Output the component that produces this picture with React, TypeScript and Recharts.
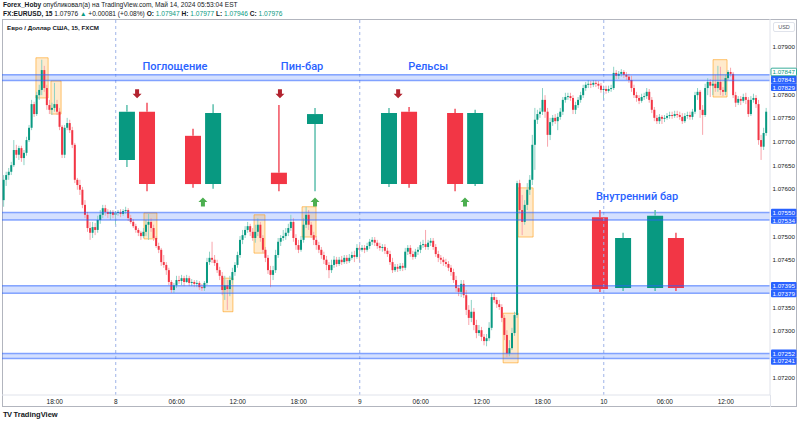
import React from "react";
import {
  ComposedChart,
  Bar,
  Scatter,
  XAxis,
  YAxis,
  ReferenceArea,
  ReferenceLine,
} from "recharts";

// ---- data (15 min EUR/USD bars, index 0 = 13:00 on the 7th) ----
const firstOpen = 1.07576;

const closes = [
  1.07619, 1.07629, 1.07636, 1.0765, 1.07682, 1.07672, 1.07686, 1.07665, 1.07676, 1.07703,
  1.07729, 1.07779, 1.07758, 1.07798, 1.07809, 1.07851, 1.07813, 1.07777, 1.07767, 1.07771,
  1.07779, 1.07763, 1.07731, 1.07672, 1.07729, 1.07739, 1.07724, 1.07693, 1.07619, 1.07608,
  1.07598, 1.07566, 1.07545, 1.07517, 1.07507, 1.07519, 1.07513, 1.07534, 1.07545, 1.07559,
  1.07551, 1.07547, 1.07551, 1.07545, 1.07549, 1.07551, 1.07547, 1.07553, 1.07555, 1.07538,
  1.0753, 1.07521, 1.07513, 1.07507, 1.075, 1.07509, 1.07524, 1.0753, 1.07517, 1.07496,
  1.07479, 1.07471, 1.07445, 1.07439, 1.07428, 1.07403, 1.07386, 1.07396, 1.07407, 1.07405,
  1.07411, 1.07403, 1.07411, 1.07401, 1.07403, 1.07399, 1.07401, 1.07392, 1.0739, 1.07401,
  1.07445, 1.07454, 1.0745, 1.07443, 1.07428, 1.07416, 1.07386, 1.07396, 1.07388, 1.07407,
  1.07424, 1.07439, 1.0746, 1.07492, 1.07502, 1.07513, 1.07521, 1.07509, 1.07496, 1.07509,
  1.07524, 1.07496, 1.07471, 1.07454, 1.07428, 1.07418, 1.07428, 1.0746, 1.07488, 1.07496,
  1.075, 1.07507, 1.07517, 1.0753, 1.07496, 1.07481, 1.07471, 1.07492, 1.07524, 1.07545,
  1.07524, 1.07502, 1.07492, 1.07481, 1.07471, 1.0746, 1.0745, 1.07439, 1.07428, 1.07439,
  1.0745, 1.07441, 1.0745, 1.07445, 1.07454, 1.07447, 1.07454, 1.0746, 1.07456, 1.07475,
  1.07471, 1.07475, 1.07471, 1.07479, 1.07488, 1.07492, 1.07486, 1.07479, 1.07475, 1.07477,
  1.07469, 1.07462, 1.07445, 1.07428, 1.07435, 1.07431, 1.07437, 1.07433, 1.07467, 1.07475,
  1.07462, 1.07456, 1.07467, 1.07471, 1.07481, 1.07483, 1.07477, 1.07486, 1.0749, 1.07477,
  1.07462, 1.07454, 1.0745, 1.07445, 1.07441, 1.07433, 1.07424, 1.07407, 1.0739, 1.07382,
  1.07399, 1.07375, 1.07344, 1.07327, 1.0734, 1.07312, 1.07295, 1.07301, 1.07287, 1.07278,
  1.07284, 1.07306, 1.07371, 1.07365, 1.07356, 1.0735, 1.07327, 1.07291, 1.07252, 1.07263,
  1.07295, 1.07333, 1.07612, 1.07555, 1.0753, 1.07566, 1.07598, 1.07619, 1.07693, 1.07746,
  1.07758, 1.07763, 1.07788, 1.07763, 1.07714, 1.07741, 1.0775, 1.07743, 1.07752, 1.07763,
  1.07788, 1.07794, 1.07796, 1.07792, 1.07767, 1.07777, 1.07788, 1.07798, 1.07813, 1.0782,
  1.07822, 1.0782, 1.07824, 1.07822, 1.07818, 1.07809, 1.07811, 1.07807, 1.07811, 1.07813,
  1.07845, 1.07839, 1.07843, 1.07847, 1.07841, 1.07837, 1.0783, 1.07813, 1.07798, 1.07792,
  1.07786, 1.07794, 1.07796, 1.07805, 1.07788, 1.07767, 1.0775, 1.07743, 1.07752, 1.07748,
  1.0775, 1.07754, 1.07756, 1.07754, 1.07758, 1.07756, 1.07752, 1.07743, 1.07754, 1.07756,
  1.07752, 1.07763, 1.07798, 1.07805, 1.07767, 1.07756, 1.07813, 1.07826, 1.07818, 1.07822,
  1.07813, 1.07826, 1.07809, 1.07805, 1.07834, 1.07847, 1.07843, 1.07798, 1.07782, 1.0779,
  1.07786, 1.07794, 1.07788, 1.07758, 1.07788, 1.07792, 1.07779, 1.07703, 1.07689, 1.07718,
  1.07763,
];

const highs = [
  1.07629, 1.07636, 1.07644, 1.07657, 1.07703, 1.07693, 1.07691, 1.07691, 1.07682, 1.0771,
  1.07735, 1.07788, 1.07784, 1.07805, 1.0782, 1.07873, 1.0786, 1.0782, 1.07788, 1.07782,
  1.07824, 1.07788, 1.07771, 1.07735, 1.07735, 1.0775, 1.07746, 1.07731, 1.07697, 1.07623,
  1.07619, 1.07604, 1.07576, 1.07551, 1.0753, 1.0753, 1.07528, 1.07543, 1.07555, 1.07566,
  1.07566, 1.07557, 1.07555, 1.07555, 1.07553, 1.07555, 1.07557, 1.07557, 1.07562, 1.07559,
  1.07545, 1.07536, 1.07526, 1.07517, 1.07511, 1.07517, 1.07534, 1.07547, 1.07538, 1.07524,
  1.075, 1.07486, 1.07475, 1.0746, 1.07445, 1.07433, 1.07407, 1.07401, 1.07416, 1.07416,
  1.07418, 1.07416, 1.07418, 1.07416, 1.07409, 1.07407, 1.07407, 1.07405, 1.07399, 1.07405,
  1.07454, 1.07467, 1.07488, 1.0746, 1.0745, 1.07435, 1.07424, 1.07416, 1.07407, 1.07416,
  1.07433, 1.07445, 1.07467, 1.075, 1.07513, 1.07521, 1.0753, 1.07526, 1.07517, 1.07524,
  1.07538, 1.0753, 1.07502, 1.07477, 1.0746, 1.07437, 1.07437, 1.07471, 1.07496, 1.07502,
  1.07513, 1.07517, 1.07526, 1.07545, 1.07538, 1.07504, 1.07492, 1.075, 1.07538, 1.07562,
  1.07555, 1.0753, 1.07509, 1.075, 1.07488, 1.07477, 1.07467, 1.07458, 1.07445, 1.0745,
  1.07458, 1.07456, 1.07456, 1.07458, 1.0746, 1.0746, 1.07462, 1.07467, 1.07469, 1.07483,
  1.07481, 1.07481, 1.07481, 1.07486, 1.07494, 1.07498, 1.07498, 1.07492, 1.07486, 1.07483,
  1.07483, 1.07475, 1.07469, 1.07454, 1.07441, 1.07441, 1.07443, 1.07443, 1.07475, 1.07481,
  1.07481, 1.07469, 1.07473, 1.07477, 1.07488, 1.07492, 1.07513, 1.07492, 1.07496, 1.07496,
  1.07483, 1.07469, 1.0746, 1.07456, 1.07452, 1.07447, 1.07439, 1.07431, 1.07416, 1.07396,
  1.07407, 1.07407, 1.07386, 1.07354, 1.07365, 1.07348, 1.07323, 1.07312, 1.07308, 1.07293,
  1.07293, 1.07318, 1.0738, 1.0738, 1.07371, 1.07365, 1.07356, 1.07333, 1.07301, 1.0728,
  1.07306, 1.0734, 1.07617, 1.07619, 1.07587, 1.07576, 1.07612, 1.07629, 1.07714, 1.07771,
  1.07767, 1.07771, 1.07813, 1.07798, 1.07771, 1.0775, 1.07756, 1.07758, 1.0776, 1.07771,
  1.07794, 1.07803, 1.07803, 1.07803, 1.07798, 1.07784, 1.07794, 1.07805, 1.0782, 1.07826,
  1.0783, 1.07828, 1.0783, 1.0783, 1.07828, 1.07824, 1.07818, 1.07818, 1.07818, 1.0782,
  1.07858, 1.07851, 1.07849, 1.07853, 1.07851, 1.07847, 1.07843, 1.07839, 1.0782, 1.07805,
  1.07798, 1.07801, 1.07803, 1.07813, 1.07811, 1.07794, 1.07773, 1.07756, 1.07758, 1.07756,
  1.07756, 1.0776, 1.07763, 1.07763, 1.07765, 1.07765, 1.07763, 1.0776, 1.0776, 1.07763,
  1.07763, 1.07769, 1.07805, 1.07813, 1.07809, 1.07777, 1.07822, 1.07834, 1.07832, 1.0783,
  1.07841, 1.0786, 1.07858, 1.07815, 1.07841, 1.07851, 1.07856, 1.07847, 1.07805, 1.07796,
  1.07796, 1.07801, 1.07803, 1.07794, 1.07796, 1.07801, 1.07798, 1.07788, 1.07714, 1.07729,
  1.07771,
];

const lows = [
  1.07562, 1.07606, 1.07619, 1.07629, 1.07646, 1.07665, 1.07661, 1.07657, 1.0765, 1.0767,
  1.07699, 1.07724, 1.07752, 1.07754, 1.07788, 1.07798, 1.07805, 1.07767, 1.07758, 1.07756,
  1.07763, 1.07756, 1.07724, 1.07665, 1.07665, 1.07724, 1.07718, 1.07686, 1.07612, 1.07598,
  1.07587, 1.07559, 1.07538, 1.07509, 1.07492, 1.07496, 1.07502, 1.07507, 1.07526, 1.07538,
  1.07543, 1.07538, 1.07534, 1.07538, 1.07524, 1.07543, 1.0754, 1.07543, 1.07547, 1.07532,
  1.07526, 1.07517, 1.07507, 1.075, 1.07492, 1.07496, 1.075, 1.07492, 1.07509, 1.0749,
  1.07475, 1.07464, 1.07437, 1.07433, 1.07418, 1.07396, 1.0738, 1.0738, 1.0739, 1.07399,
  1.07396, 1.07394, 1.07401, 1.07394, 1.07394, 1.07392, 1.07392, 1.07386, 1.07384, 1.07384,
  1.07396, 1.07439, 1.07443, 1.07437, 1.07422, 1.07407, 1.07375, 1.07365, 1.07344, 1.07373,
  1.07399, 1.07416, 1.07433, 1.07454, 1.07483, 1.07496, 1.07507, 1.075, 1.0749, 1.07486,
  1.075, 1.07488, 1.07464, 1.07445, 1.0742, 1.07392, 1.07407, 1.07422, 1.07454, 1.07479,
  1.0749, 1.07492, 1.075, 1.07511, 1.07488, 1.07471, 1.07464, 1.07467, 1.07486, 1.07517,
  1.07513, 1.07496, 1.07481, 1.07471, 1.07464, 1.07452, 1.07441, 1.07428, 1.07411, 1.07422,
  1.07433, 1.07435, 1.07437, 1.07439, 1.07441, 1.07441, 1.07443, 1.0745, 1.07445, 1.07452,
  1.07445, 1.07467, 1.07464, 1.07467, 1.07473, 1.07481, 1.07479, 1.07473, 1.07469, 1.07467,
  1.07462, 1.07456, 1.07439, 1.07422, 1.07424, 1.07424, 1.07426, 1.07426, 1.07428, 1.0746,
  1.07456, 1.0745, 1.07452, 1.0746, 1.07464, 1.07475, 1.07471, 1.07471, 1.07479, 1.07471,
  1.07456, 1.07445, 1.07441, 1.07437, 1.07435, 1.07426, 1.07416, 1.07401, 1.07382, 1.07373,
  1.07371, 1.07369, 1.07333, 1.07312, 1.07318, 1.07301, 1.07284, 1.07289, 1.07278, 1.07269,
  1.07267, 1.07278, 1.07301, 1.07359, 1.07348, 1.07344, 1.07318, 1.0728, 1.07244, 1.07246,
  1.07259, 1.07289, 1.07327, 1.07547, 1.07502, 1.07524, 1.07555, 1.07587, 1.07608, 1.0764,
  1.07737, 1.0775, 1.07756, 1.0775, 1.07689, 1.07703, 1.07733, 1.07737, 1.07724, 1.07746,
  1.07756, 1.07782, 1.07788, 1.07786, 1.07758, 1.07758, 1.07771, 1.07782, 1.07792, 1.07807,
  1.07813, 1.07813, 1.07815, 1.07815, 1.07811, 1.07803, 1.07788, 1.07801, 1.07803, 1.07805,
  1.07809, 1.07832, 1.07832, 1.07837, 1.07834, 1.0783, 1.07824, 1.07805, 1.07792, 1.07784,
  1.07779, 1.07782, 1.07788, 1.0779, 1.07782, 1.0776, 1.07743, 1.07737, 1.07737, 1.07737,
  1.07741, 1.07746, 1.07748, 1.07748, 1.0775, 1.0775, 1.07746, 1.07737, 1.07739, 1.07748,
  1.07746, 1.07746, 1.07758, 1.07788, 1.0775, 1.07714, 1.07752, 1.07798, 1.07794, 1.07798,
  1.07805, 1.07805, 1.07798, 1.07796, 1.07798, 1.0783, 1.07837, 1.07792, 1.07773, 1.07777,
  1.07777, 1.07782, 1.07779, 1.07752, 1.07754, 1.07782, 1.07771, 1.07693, 1.07661, 1.07682,
  1.07712,
];

const timeTicks = [20, 44, 68, 92, 116, 140, 164, 188, 212, 236, 260, 284];
const timeLabels = ["18:00", "8", "06:00", "12:00", "18:00", "9", "06:00", "12:00", "18:00", "10", "06:00", "12:00"];
const sessionBreaks = [44, 140, 236];

const priceTicks = [
  1.072, 1.0725, 1.073, 1.0735, 1.074, 1.0745, 1.075, 1.0755,
  1.076, 1.0765, 1.077, 1.0775, 1.078, 1.0785, 1.079,
];

// support / resistance zones [low, high]
const zones = [
  [1.07829, 1.07841],
  [1.07534, 1.0755],
  [1.07379, 1.07395],
  [1.07241, 1.07252],
];
const lastPrice = 1.07847;

// orange highlight boxes
const boxX = [
  [12.6, 17.4], [18.5, 22.5], [55.1, 60.2], [86.2, 90.1], [98.4, 102.7],
  [117.3, 122.8], [196.4, 202.3], [202.3, 208.2], [279.0, 284.5],
];
const boxY = [
  [1.07792, 1.07877], [1.07758, 1.07828], [1.07494, 1.07549], [1.0734, 1.07411], [1.07464, 1.07545],
  [1.07498, 1.07562], [1.07232, 1.07337], [1.07498, 1.07602], [1.07794, 1.07873],
];

// illustration candles drawn on the chart
const patternX = [48.4, 56.3, 74.4, 82.3, 108.2, 122.4, 151.5, 159.4, 177.5, 185.4, 234.5, 243.6, 256.2, 264.4];
const patternOpen = [1.07661, 1.07763, 1.07712, 1.0761, 1.07634, 1.07737, 1.0761, 1.07763, 1.0776, 1.0761, 1.0754, 1.0739, 1.0739, 1.07496];
const patternHigh = [1.07777, 1.07782, 1.07727, 1.07779, 1.07777, 1.07771, 1.07771, 1.07773, 1.07769, 1.07767, 1.07555, 1.07507, 1.07555, 1.07507];
const patternLow = [1.07646, 1.07595, 1.07602, 1.076, 1.07595, 1.07595, 1.07604, 1.07602, 1.07595, 1.07606, 1.07382, 1.07384, 1.07384, 1.07384];
const patternClose = [1.07763, 1.0761, 1.0761, 1.0776, 1.0761, 1.07758, 1.0776, 1.0761, 1.0761, 1.0776, 1.07388, 1.07496, 1.07543, 1.0739];

const arrowDownX = [52.4, 108.6, 155.1];
const arrowUpX = [78.3, 122.4, 181.4];
const arrowDownPrice = 1.07801;
const arrowUpPrice = 1.07572;

const titles = ["Поглощение", "Пин-бар", "Рельсы", "Внутренний бар"];
const titleX = [67.3, 117.3, 166.9, 249.1];
const titlePrice = [1.07858, 1.07858, 1.07858, 1.07583];

// ---- layout ----
const WIDTH = 800;
const HEIGHT = 423;
const MARGIN = { top: 19, right: 3, bottom: 16, left: 2 };
const Y_AXIS_W = 27;
const X_AXIS_H = 12;
const PLOT_H = HEIGHT - MARGIN.top - MARGIN.bottom - X_AXIS_H;
const Y_MIN = 1.07164;
const Y_MAX = 1.07959;
const X_DOMAIN: [number, number] = [-0.75, 301.4];
const PATTERN_HALF = 3.15;
const BADGE_H = 7.6;

const UP = "#089981";
const DOWN = "#f23645";
const UP_WICK = "#8dd2c5";
const DOWN_WICK = "#f8a5ac";
const BLUE = "#2962ff";
const TEXT = "#131722";
const FONT = "'Liberation Sans', Arial, sans-serif";

const candles = closes.map((c, i) => {
  const o = i === 0 ? firstOpen : closes[i - 1];
  const h = Math.max(highs[i], o, c);
  const l = Math.min(lows[i], o, c);
  return { b: i, o, h, l, c, range: [l, h] };
});

const zoneValues = zones.flat();
const badgeValues = [lastPrice, ...zoneValues].sort((a, b) => b - a);
const pxPerUnit = PLOT_H / (Y_MAX - Y_MIN);

// push price badges apart so they don't overlap, like TradingView does
const badgeShift: Array<[number, number]> = [];
{
  let prev = -Infinity;
  for (const v of badgeValues) {
    const y = (Y_MAX - v) * pxPerUnit;
    const yy = Math.max(y, prev + BADGE_H);
    badgeShift.push([v, yy - y]);
    prev = yy;
  }
}

const visiblePriceTicks = priceTicks.filter(
  (t) => !badgeValues.some((v) => Math.abs(t - v) * pxPerUnit < 6)
);
const axisTicks = [...visiblePriceTicks, ...badgeValues].sort((a, b) => a - b);

const same = (a: number, b: number) => Math.abs(a - b) < 1e-8;

const downArrows = arrowDownX.map((b) => ({ b, p: arrowDownPrice }));
const upArrows = arrowUpX.map((b) => ({ b, p: arrowUpPrice }));
const titlePoints = titles.map((t, i) => ({ b: titleX[i], p: titlePrice[i], t }));

function CandleShape(props: any) {
  const { x, y, width, height, payload } = props;
  if (!payload || x == null || y == null) return null;
  const { o, h, l, c } = payload;
  const top = Math.min(y, y + height);
  const span = Math.abs(height);
  const toY = (p: number) => (h === l ? top : top + ((h - p) / (h - l)) * span);
  const up = c >= o;
  const cx = x + width / 2;
  const bodyTop = toY(Math.max(o, c));
  const bodyH = Math.max(toY(Math.min(o, c)) - bodyTop, 1);
  return (
    <g>
      <line x1={cx} x2={cx} y1={top} y2={top + span} stroke={up ? UP_WICK : DOWN_WICK} strokeWidth={1} />
      <rect x={x} y={bodyTop} width={width} height={bodyH} fill={up ? UP : DOWN} />
    </g>
  );
}

function DownArrow({ cx, cy }: any) {
  if (cx == null) return null;
  const pts = [
    [cx - 2, cy - 4.5], [cx + 2, cy - 4.5], [cx + 2, cy], [cx + 4.5, cy],
    [cx, cy + 4.5], [cx - 4.5, cy], [cx - 2, cy],
  ];
  return <polygon points={pts.map((p) => p.join(",")).join(" ")} fill="#b2232f" />;
}

function UpArrow({ cx, cy }: any) {
  if (cx == null) return null;
  const pts = [
    [cx - 2, cy + 4.5], [cx + 2, cy + 4.5], [cx + 2, cy], [cx + 4.5, cy],
    [cx, cy - 4.5], [cx - 4.5, cy], [cx - 2, cy],
  ];
  return <polygon points={pts.map((p) => p.join(",")).join(" ")} fill="#4caf50" />;
}

function TitleShape({ cx, cy, payload }: any) {
  if (cx == null) return null;
  return (
    <text x={cx} y={cy} textAnchor="middle" dominantBaseline="central" fontSize={11}
      fontWeight={500} fill={BLUE} fontFamily="Roboto, sans-serif">
      {payload.t}
    </text>
  );
}

function PriceTick(props: any) {
  const { x, y, payload } = props;
  const v = payload.value as number;
  const isLast = same(v, lastPrice);
  const isZone = zoneValues.some((z) => same(z, v));
  if (isLast || isZone) {
    const shift = badgeShift.find(([bv]) => same(bv, v))?.[1] ?? 0;
    const yy = y + shift;
    return (
      <g>
        <rect x={x + 1} y={yy - BADGE_H / 2} width={25.5} height={BADGE_H} rx={1}
          fill={isLast ? "#ffffff" : BLUE} stroke={isLast ? UP : "none"} strokeWidth={0.8} />
        <text x={x + 13.7} y={yy} textAnchor="middle" dominantBaseline="central"
          fontSize={6.2} fill={isLast ? UP : "#ffffff"}>
          {v.toFixed(5)}
        </text>
      </g>
    );
  }
  return (
    <text x={x + 13.7} y={y} textAnchor="middle" dominantBaseline="central" fontSize={6.2} fill={TEXT}>
      {v.toFixed(5)}
    </text>
  );
}

export default function App() {
  return (
    <div style={{ position: "absolute", left: 0, top: 0, width: WIDTH, height: HEIGHT, background: "#fff", fontFamily: FONT, color: TEXT, overflow: "hidden" }}>
      <div style={{ position: "absolute", left: 3, top: 1, fontSize: 6.6, lineHeight: "8px", whiteSpace: "nowrap" }}>
        <b>Forex_Hoby</b> опубликовал(а) на TradingView.com, Май 14, 2024 05:53:04 EST
      </div>
      <div style={{ position: "absolute", left: 3, top: 10, fontSize: 6.6, lineHeight: "8px", whiteSpace: "nowrap" }}>
        <b>FX:EURUSD, 15</b> 1.07976 <span style={{ color: UP }}>▲</span> +0.00081 (+0.08%){" "}
        <b>O:</b> <span style={{ color: UP }}>1.07947</span> <b>H:</b> <span style={{ color: UP }}>1.07977</span>{" "}
        <b>L:</b> <span style={{ color: UP }}>1.07946</span> <b>C:</b> <span style={{ color: UP }}>1.07976</span>
      </div>

      <div style={{ position: "absolute", left: 2, top: 19, width: 795, height: 388, border: "1px solid #b2b5be", boxSizing: "border-box" }} />
      <div style={{ position: "absolute", left: 770, top: 395, width: 1, height: 12, background: "#e0e3eb" }} />

      <div style={{ position: "absolute", left: 0, top: 0 }}>
        <ComposedChart width={WIDTH} height={HEIGHT} data={candles} margin={MARGIN}>
          <XAxis
            dataKey="b"
            type="number"
            domain={X_DOMAIN}
            allowDataOverflow
            ticks={timeTicks}
            interval={0}
            height={X_AXIS_H}
            tickLine={false}
            tickSize={0}
            tickMargin={4}
            axisLine={{ stroke: "#e0e3eb" }}
            tick={{ fontSize: 6.5, fill: TEXT }}
            tickFormatter={(v: number) => timeLabels[timeTicks.indexOf(v)] ?? ""}
          />
          <XAxis xAxisId="pat" dataKey="b" type="number" domain={X_DOMAIN} allowDataOverflow hide />
          <YAxis
            orientation="right"
            type="number"
            width={Y_AXIS_W}
            domain={[Y_MIN, Y_MAX]}
            allowDataOverflow
            ticks={axisTicks}
            interval={0}
            tickLine={false}
            tickSize={0}
            tickMargin={0}
            axisLine={{ stroke: "#e0e3eb" }}
            tick={(p: any) => <PriceTick {...p} />}
          />

          {sessionBreaks.map((b) => (
            <ReferenceLine key={`s${b}`} x={b} stroke="#9fb3e8" strokeDasharray="3 3" />
          ))}

          {zones.map(([lo, hi], i) => (
            <ReferenceArea key={`z${i}`} y1={lo} y2={hi} fill={BLUE} fillOpacity={0.2} stroke="none" />
          ))}
          {zoneValues.map((v, i) => (
            <ReferenceLine key={`zl${i}`} y={v} stroke={BLUE} strokeOpacity={0.55} strokeWidth={1.5} />
          ))}

          <Bar dataKey="range" barSize={2} shape={<CandleShape />} isAnimationActive={false} />

          {boxX.map(([x1, x2], i) => (
            <ReferenceArea key={`h${i}`} x1={x1} x2={x2} y1={boxY[i][0]} y2={boxY[i][1]}
              fill="#ff9800" fillOpacity={0.2} stroke="#ff9800" strokeOpacity={0.55} />
          ))}

          {patternX.map((px, i) => {
            const o = patternOpen[i];
            const c = patternClose[i];
            const up = c >= o;
            const top = Math.max(o, c);
            const bot = Math.min(o, c);
            const wick = up ? "#5cbfad" : "#f2505e";
            return (
              <React.Fragment key={`p${i}`}>
                <ReferenceLine segment={[{ x: px, y: patternHigh[i] }, { x: px, y: top }]} stroke={wick} strokeWidth={1.5} />
                <ReferenceLine segment={[{ x: px, y: bot }, { x: px, y: patternLow[i] }]} stroke={wick} strokeWidth={1.5} />
                <ReferenceArea x1={px - PATTERN_HALF} x2={px + PATTERN_HALF} y1={bot} y2={top}
                  fill={up ? UP : DOWN} fillOpacity={1} stroke="none" />
              </React.Fragment>
            );
          })}

          <Scatter xAxisId="pat" data={downArrows} dataKey="p" shape={<DownArrow />} isAnimationActive={false} />
          <Scatter xAxisId="pat" data={upArrows} dataKey="p" shape={<UpArrow />} isAnimationActive={false} />
          <Scatter xAxisId="pat" data={titlePoints} dataKey="p" shape={<TitleShape />} isAnimationActive={false} />
        </ComposedChart>
      </div>

      <div style={{ position: "absolute", left: 7, top: 24, fontSize: 6.2, fontWeight: 600, whiteSpace: "nowrap" }}>
        Евро / Доллар США, 15, FXCM
      </div>
      <div style={{ position: "absolute", left: 773, top: 22, width: 22, height: 10, border: "1px solid #e0e3eb", borderRadius: 2, boxSizing: "border-box", fontSize: 5.5, lineHeight: "8px", textAlign: "center", color: "#50535e" }}>
        USD
      </div>
      <div style={{ position: "absolute", left: 3, top: 410, fontSize: 7.5, lineHeight: "9px", whiteSpace: "nowrap", fontWeight: 600 }}>
        <span style={{ fontWeight: 900, letterSpacing: -0.5, marginRight: 2 }}>TV</span>TradingView
      </div>
    </div>
  );
}
